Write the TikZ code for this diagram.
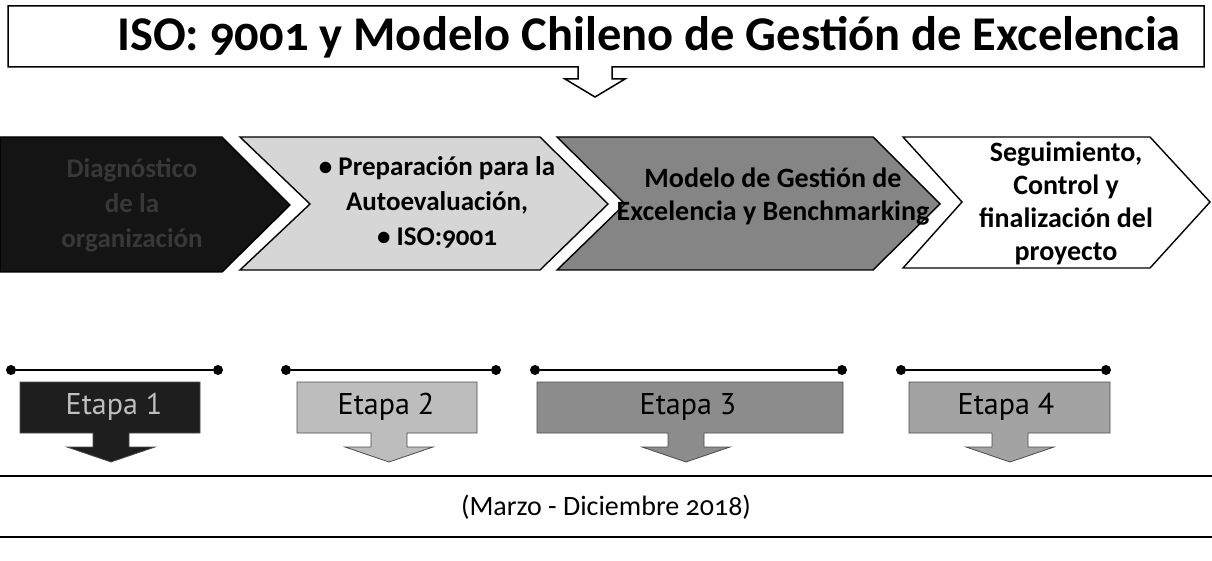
\documentclass[tikz,border=0pt]{standalone}
\usepackage{fontspec}
\setmainfont{Carlito}[Numbers=OldStyle]
\newfontfamily\etapafont{PT Sans}
\definecolor{cone}{HTML}{141414}
\definecolor{ctwo}{HTML}{D6D6D6}
\definecolor{cthree}{HTML}{858585}
\definecolor{eone}{HTML}{1E1E1E}
\definecolor{etwo}{HTML}{BDBDBD}
\definecolor{ethree}{HTML}{8C8C8C}
\definecolor{efour}{HTML}{A3A3A3}
\tikzset{
  chev/.style={draw=black, line width=1.4pt, line join=miter},
  chevtext/.style={align=center, font=\bfseries\fontsize{27}{35}\selectfont},
  bar/.style={line width=2.4pt},
  bardot/.style={fill=black, circle, inner sep=0pt, minimum size=10pt},
  etapabox/.style={draw=black!70, line width=0.8pt},
  etapatext/.style={font=\etapafont\fontsize{30}{34}\selectfont},
  rule/.style={line width=1.1pt}
}
\newcommand{\etapashape}[5]{% fill, left, right, arrow centre, name
  \draw[etapabox, fill=#1] (#2,382) -- (#3,382) -- (#3,433) -- (#4+18,433) -- (#4+18,447) -- (#4+44,447) -- (#4,462) -- (#4-44,447) -- (#4-18,447) -- (#4-18,433) -- (#2,433) -- cycle;
}
\begin{document}
\begin{tikzpicture}[x=1pt,y=-1pt]
\useasboundingbox (0,0) rectangle (1212,561);
% title callout
\draw[line width=1.5pt, fill=white] (8,6) -- (1204,6) -- (1204,67) -- (612,67) -- (612,79) -- (625,79) -- (595,97) -- (565,79) -- (578,79) -- (578,67) -- (8,67) -- cycle;
\node[font=\bfseries\fontsize{48.5}{54}\selectfont] (title) at (649,37) {ISO: 9001 y Modelo Chileno de Gestión de Excelencia};
% chevrons
\draw[chev, fill=cone] (0,137) -- (222,137) -- (290,205) -- (222,272) -- (0,272) -- cycle;
\draw[chev, fill=ctwo] (240,137) -- (540,137) -- (608,204) -- (540,270) -- (240,270) -- (310,204) -- cycle;
\draw[chev, fill=cthree] (557,137) -- (873,137) -- (940,204) -- (873,270) -- (557,270) -- (625,204) -- cycle;
\draw[chev, fill=white] (903,137) -- (1150,137) -- (1210,202) -- (1150,268) -- (903,268) -- (962,202) -- cycle;
\node[chevtext, text=black!78] (c1) at (132,205) {Diagnóstico\\de la\\organización};
\node[chevtext] (c2) at (437,202) {• Preparación para la\\Autoevaluación,\\• ISO:9001};
\node[chevtext, font=\bfseries\fontsize{28}{33}\selectfont] (c3) at (773,197) {Modelo de Gestión de\\Excelencia y Benchmarking};
\node[chevtext, font=\bfseries\fontsize{28}{33}\selectfont] (c4) at (1066,203) {Seguimiento,\\Control y\\finalización del\\proyecto};
% bars
\foreach \i/\a/\b in {1/11/218, 2/286/496, 3/535/842, 4/901/1106}{
  \node[bardot] (l\i) at (\a,370) {};
  \node[bardot] (r\i) at (\b,370) {};
  \draw[bar] (l\i) -- (r\i);
}
% etapa callouts
\etapashape{eone}{20}{200}{111}{}
\etapashape{etwo}{297}{477}{389}{}
\etapashape{ethree}{537}{843}{686}{}
\etapashape{efour}{909}{1110}{1010}{}
\node[etapatext, text=black!25] (e1) at (114,407) {Etapa 1};
\node[etapatext] (e2) at (386,407) {Etapa 2};
\node[etapatext] (e3) at (688,407) {Etapa 3};
\node[etapatext] (e4) at (1006,407) {Etapa 4};
% period
\coordinate (ra) at (0,476);
\coordinate (rb) at (1212,476);
\coordinate (rc) at (0,537);
\coordinate (rd) at (1212,537);
\draw[rule] (ra) -- (rb);
\draw[rule] (rc) -- (rd);
\node[font=\fontsize{28}{32}\selectfont] (period) at (606,507) {(Marzo - Diciembre 2018)};
\end{tikzpicture}
\end{document}
